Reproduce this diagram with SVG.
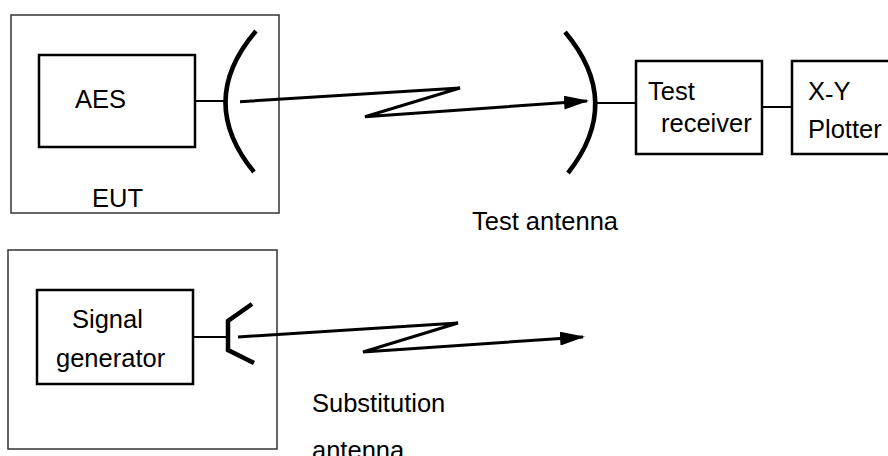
<svg xmlns="http://www.w3.org/2000/svg" width="888" height="456" viewBox="0 0 888 456">
<style>
.outer{fill:none;stroke:#333;stroke-width:1.5}
.box{fill:none;stroke:#000;stroke-width:2.5}
.wire{fill:none;stroke:#000;stroke-width:2}
.ant{fill:none;stroke:#000;stroke-width:4.5;stroke-linecap:butt}
.sig{fill:none;stroke:#000;stroke-width:3;stroke-linejoin:miter}
text{font-family:"Liberation Sans",Arial,sans-serif;font-size:25.5px;fill:#000}
</style>
<defs>
<marker id="ah" markerUnits="userSpaceOnUse" markerWidth="26" markerHeight="14" refX="23" refY="7" orient="auto">
<path d="M0,0 L25,7 L0,14 z" fill="#000"/>
</marker>
</defs>
<rect fill="#fff" width="888" height="456"/>
<g id="eut">
<rect class="outer" x="11" y="15" width="268" height="198"/>
<text x="92" y="207">EUT</text>
</g>
<g id="aes">
<rect class="box" x="39" y="55" width="156" height="92"/>
<text x="75" y="108">AES</text>
</g>
<g id="eut-antenna">
<path class="ant" d="M256,31 Q196,101 254,172"/>
</g>
<g id="test-antenna">
<path class="ant" d="M565,32 Q624,102 568,173"/>
<text x="472" y="230">Test antenna</text>
</g>
<g id="test-receiver">
<rect class="box" x="636" y="61" width="126" height="93"/>
<text x="648" y="100">Test</text>
<text x="661" y="132">receiver</text>
</g>
<g id="xy-plotter">
<rect class="box" x="792" y="61" width="100" height="93"/>
<text x="808" y="100">X<tspan dy="3">-</tspan><tspan dy="-3">Y</tspan></text>
<text x="808" y="138">Plotter</text>
</g>
<g id="sub-box">
<rect class="outer" x="8" y="250" width="269" height="199"/>
</g>
<g id="signal-generator">
<rect class="box" x="37" y="290" width="156" height="94"/>
<text x="72" y="328">Signal</text>
<text x="56" y="367">generator</text>
</g>
<g id="substitution-antenna">
<path class="ant" d="M252,304 L228,321 L228,350 L254,363"/>
<text x="312" y="412">Substitution</text>
<text x="312" y="459">antenna</text>
</g>
<g id="connectors">
<line class="wire" x1="195" y1="101" x2="227" y2="101"/>
<line class="wire" x1="595" y1="103" x2="636" y2="103"/>
<line class="wire" x1="762" y1="107" x2="792" y2="107"/>
<line class="wire" x1="193" y1="337" x2="228" y2="337"/>
<path class="sig" d="M240,101.7 L460,88 L365,116.7 L587,101" marker-end="url(#ah)"/>
<path class="sig" d="M238,337 L458,323 L363,352 L583,337" marker-end="url(#ah)"/>
</g>
</svg>
